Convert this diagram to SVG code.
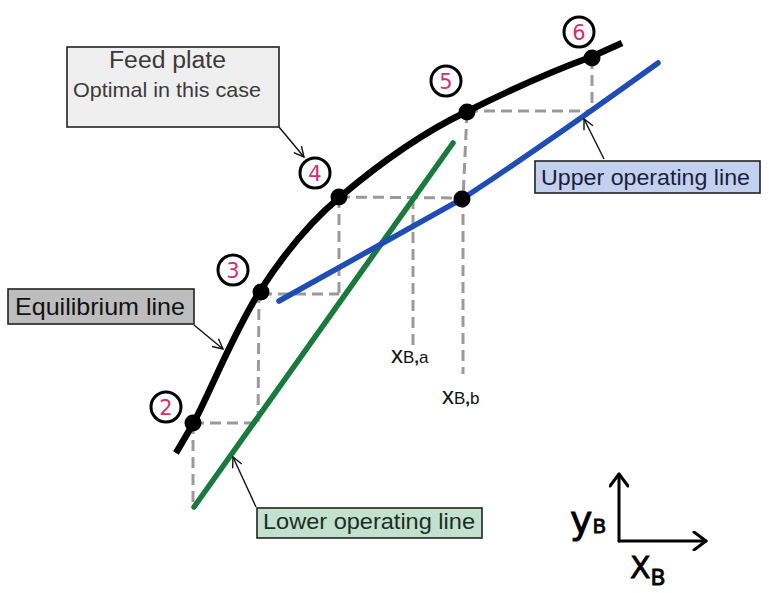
<svg xmlns="http://www.w3.org/2000/svg" width="769" height="593" viewBox="0 0 769 593">
<style>
.lbl{font-family:"Liberation Sans",Arial,sans-serif;}
.box{stroke:#222;stroke-width:1.6;}
.ptr{fill:none;stroke:#111;stroke-width:1.4;}
.dash{fill:none;stroke:#9a9a9a;stroke-width:3;stroke-dasharray:11 6;}
.dot{fill:#000;}
.circ{fill:#fff;stroke:#000;stroke-width:3;}
.num{font-family:"DejaVu Sans",sans-serif;font-size:21px;fill:#d42f6a;text-anchor:middle;}
.hand{font-family:"DejaVu Sans",sans-serif;fill:#000;stroke:#000;stroke-width:0.8;}
</style>
<defs>
<marker id="open" viewBox="0 0 12 12" refX="11" refY="6" markerWidth="12" markerHeight="12" markerUnits="userSpaceOnUse" orient="auto">
<path d="M1,1 L11,6 L1,11" fill="none" stroke="#111" stroke-width="1.4"/>
</marker>
<marker id="axis" viewBox="0 0 20 20" refX="18" refY="10" markerWidth="20" markerHeight="20" markerUnits="userSpaceOnUse" orient="auto">
<path d="M6,1 L18,10 L6,19" fill="none" stroke="#000" stroke-width="3" stroke-linecap="round" stroke-linejoin="round"/>
</marker>
</defs>
<rect width="769" height="593" fill="#fff"/>

<g id="connectors">
<path class="dash" d="M592,58 L592,111 M467,111 L590,111"/>
<path class="dash" d="M467,112 L463,199 L463,374"/>
<path class="dash" d="M339,197 L462,198"/>
<path class="dash" d="M413,198 L413,347"/>
<path class="dash" d="M339,197 L339,295 M261,294 L339,294"/>
<path class="dash" d="M259,292 L258,424 M193,423 L258,423"/>
<path class="dash" d="M193,423 L193,507"/>
<path id="lower-line" d="M194,507 L453,143" fill="none" stroke="#1a7a3d" stroke-width="5.5" stroke-linecap="round"/>
<path id="upper-line" d="M279,301 L462,199 Q540,148 658,63" fill="none" stroke="#1f4cb5" stroke-width="5.5" stroke-linecap="round"/>
<path id="eq-curve" d="M176,453 L193,424 C210,393 232,335 260,291 C285,252 310,222 340,197 C380,163 420,134 466,112 C510,90 555,70 591,57 L622,43" fill="none" stroke="#000" stroke-width="6.5" stroke-linecap="butt" stroke-linejoin="round"/>
<path class="ptr" d="M279,127 L304,157" marker-end="url(#open)"/>
<path class="ptr" d="M194,325 L223,349" marker-end="url(#open)"/>
<path class="ptr" d="M256,507 L233,457" marker-end="url(#open)"/>
<path class="ptr" d="M604,159 L584,119" marker-end="url(#open)"/>
<path d="M619,541 L619,474" fill="none" stroke="#000" stroke-width="3" stroke-linecap="round" marker-end="url(#axis)"/>
<path d="M619,541 L706,541" fill="none" stroke="#000" stroke-width="3" stroke-linecap="round" marker-end="url(#axis)"/>
</g>

<g id="points">
<circle class="dot" cx="193" cy="423" r="8.5"/>
<circle class="dot" cx="261" cy="292" r="8.5"/>
<circle class="dot" cx="339" cy="197" r="8.5"/>
<circle class="dot" cx="462" cy="199" r="8.5"/>
<circle class="dot" cx="467" cy="112" r="8.5"/>
<circle class="dot" cx="592" cy="58" r="8.5"/>
</g>

<g id="stage-2"><circle class="circ" cx="166" cy="407" r="15"/><text class="num" x="166" y="415">2</text></g>
<g id="stage-3"><circle class="circ" cx="233" cy="270" r="15"/><text class="num" x="233" y="278">3</text></g>
<g id="stage-4"><circle class="circ" cx="315" cy="173" r="15"/><text class="num" x="315" y="181">4</text></g>
<g id="stage-5"><circle class="circ" cx="446" cy="81" r="15"/><text class="num" x="446" y="89">5</text></g>
<g id="stage-6"><circle class="circ" cx="579" cy="32" r="15"/><text class="num" x="579" y="40">6</text></g>

<g id="feed-plate">
<rect class="box" x="67" y="47" width="212" height="80" fill="#efefef"/>
<text class="lbl" x="109" y="68" font-size="23" fill="#3a3a3a" textLength="117" lengthAdjust="spacingAndGlyphs">Feed plate</text>
<text class="lbl" x="73" y="97" font-size="21" fill="#3a3a3a" textLength="188" lengthAdjust="spacingAndGlyphs">Optimal in this case</text>
</g>

<g id="equilibrium-label">
<rect class="box" x="8" y="289" width="186" height="35" fill="#bdbdbd"/>
<text class="lbl" x="15" y="315" font-size="24" fill="#111" textLength="170" lengthAdjust="spacingAndGlyphs">Equilibrium line</text>
</g>

<g id="lower-label">
<rect class="box" x="257" y="508" width="225" height="30" fill="#c2e1cf"/>
<text class="lbl" x="263" y="529" font-size="22" fill="#1c2e24" textLength="212" lengthAdjust="spacingAndGlyphs">Lower operating line</text>
</g>

<g id="upper-label">
<rect class="box" x="535" y="161" width="225" height="32" fill="#c4d1ee"/>
<text class="lbl" x="541" y="185" font-size="22" fill="#18223f" textLength="209" lengthAdjust="spacingAndGlyphs">Upper operating line</text>
</g>

<g id="xBa">
<text class="lbl" x="391" y="363" font-size="24" fill="#111">x<tspan font-size="17">B</tspan><tspan font-size="17" font-weight="bold">,</tspan><tspan font-size="17">a</tspan></text>
</g>
<g id="xBb">
<text class="lbl" x="442" y="404" font-size="24" fill="#111">x<tspan font-size="17">B</tspan><tspan font-size="17" font-weight="bold">,</tspan><tspan font-size="17">b</tspan></text>
</g>

<g id="axis-labels">
<text class="hand" x="570" y="533" font-size="38">y<tspan font-size="20">B</tspan></text>
<text class="hand" x="630" y="578" font-size="30">X<tspan font-size="22" dy="7">B</tspan></text>
</g>
</svg>
